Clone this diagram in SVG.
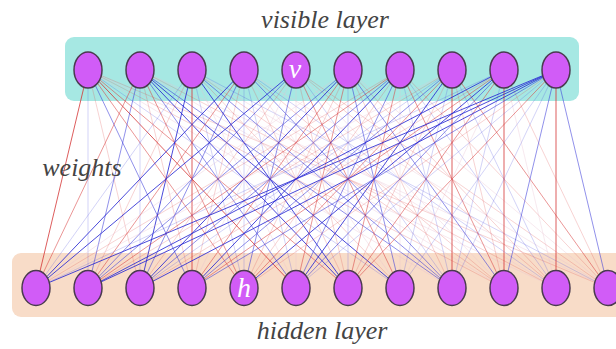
<svg xmlns="http://www.w3.org/2000/svg" width="616" height="349" viewBox="0 0 616 349">
<style>
.lbl{font-family:"Liberation Serif","DejaVu Serif",serif;font-style:italic;font-size:26px;fill:#444;text-anchor:middle}
.nl{font-family:"Liberation Serif","DejaVu Serif",serif;font-style:italic;font-size:28px;fill:#fff;text-anchor:middle}
.node{fill:#d15cf7;stroke:#4a3a4f;stroke-width:1.5}
#connectors path{fill:none;stroke-width:1}
.b3{stroke:#2a2ad4;stroke-opacity:.85}
.b2{stroke:#3636d8;stroke-opacity:.55}
.b1{stroke:#5050e0;stroke-opacity:.25}
.r3{stroke:#d43434;stroke-opacity:.8}
.r2{stroke:#d84040;stroke-opacity:.55}
.r1{stroke:#e05050;stroke-opacity:.25}
.n{stroke:#e8c0d0;stroke-opacity:.35}
</style>
<rect id="visible-box" x="65" y="37" width="514" height="64" rx="9" fill="#a6e8e3"/>
<rect id="hidden-box" x="12" y="253" width="620" height="64" rx="9" fill="#f8dcc8"/>
<g id="connectors">
<path class="r3" d="M88 70L36 288"/><path class="b1" d="M88 70L88 288"/><path class="r1" d="M88 70L140 288"/><path class="b2" d="M88 70L192 288"/><path class="r2" d="M88 70L244 288"/><path class="r3" d="M88 70L296 288"/><path class="r2" d="M88 70L348 288"/><path class="b1" d="M88 70L400 288"/><path class="n" d="M88 70L452 288"/><path class="r1" d="M88 70L504 288"/><path class="n" d="M88 70L556 288"/><path class="r1" d="M88 70L608 288"/>
<path class="r2" d="M140 70L36 288"/><path class="b2" d="M140 70L88 288"/><path class="b1" d="M140 70L140 288"/><path class="r1" d="M140 70L192 288"/><path class="r2" d="M140 70L244 288"/><path class="b2" d="M140 70L296 288"/><path class="b3" d="M140 70L348 288"/><path class="b3" d="M140 70L400 288"/><path class="b2" d="M140 70L452 288"/><path class="n" d="M140 70L504 288"/><path class="r1" d="M140 70L556 288"/><path class="n" d="M140 70L608 288"/>
<path class="b1" d="M192 70L36 288"/><path class="r1" d="M192 70L88 288"/><path class="b3" d="M192 70L140 288"/><path class="r3" d="M192 70L192 288"/><path class="b1" d="M192 70L244 288"/><path class="n" d="M192 70L296 288"/><path class="b3" d="M192 70L348 288"/><path class="r1" d="M192 70L400 288"/><path class="b2" d="M192 70L452 288"/><path class="r1" d="M192 70L504 288"/><path class="n" d="M192 70L556 288"/><path class="b1" d="M192 70L608 288"/>
<path class="b3" d="M244 70L36 288"/><path class="r2" d="M244 70L88 288"/><path class="b2" d="M244 70L140 288"/><path class="r1" d="M244 70L192 288"/><path class="b1" d="M244 70L244 288"/><path class="b1" d="M244 70L296 288"/><path class="r1" d="M244 70L348 288"/><path class="n" d="M244 70L400 288"/><path class="b2" d="M244 70L452 288"/><path class="r1" d="M244 70L504 288"/><path class="b1" d="M244 70L556 288"/><path class="n" d="M244 70L608 288"/>
<path class="b3" d="M296 70L36 288"/><path class="b2" d="M296 70L88 288"/><path class="r1" d="M296 70L140 288"/><path class="n" d="M296 70L192 288"/><path class="b2" d="M296 70L244 288"/><path class="n" d="M296 70L296 288"/><path class="r1" d="M296 70L348 288"/><path class="r2" d="M296 70L400 288"/><path class="b1" d="M296 70L452 288"/><path class="n" d="M296 70L504 288"/><path class="r1" d="M296 70L556 288"/><path class="r1" d="M296 70L608 288"/>
<path class="n" d="M348 70L36 288"/><path class="b2" d="M348 70L88 288"/><path class="b3" d="M348 70L140 288"/><path class="r2" d="M348 70L192 288"/><path class="r1" d="M348 70L244 288"/><path class="r2" d="M348 70L296 288"/><path class="b1" d="M348 70L348 288"/><path class="b2" d="M348 70L400 288"/><path class="r1" d="M348 70L452 288"/><path class="b2" d="M348 70L504 288"/><path class="r1" d="M348 70L556 288"/><path class="n" d="M348 70L608 288"/>
<path class="r1" d="M400 70L36 288"/><path class="r2" d="M400 70L88 288"/><path class="b2" d="M400 70L140 288"/><path class="b3" d="M400 70L192 288"/><path class="r1" d="M400 70L244 288"/><path class="b2" d="M400 70L296 288"/><path class="r2" d="M400 70L348 288"/><path class="n" d="M400 70L400 288"/><path class="b1" d="M400 70L452 288"/><path class="r2" d="M400 70L504 288"/><path class="b1" d="M400 70L556 288"/><path class="r1" d="M400 70L608 288"/>
<path class="n" d="M452 70L36 288"/><path class="r1" d="M452 70L88 288"/><path class="b1" d="M452 70L140 288"/><path class="b2" d="M452 70L192 288"/><path class="r2" d="M452 70L244 288"/><path class="b3" d="M452 70L296 288"/><path class="r1" d="M452 70L348 288"/><path class="b1" d="M452 70L400 288"/><path class="r3" d="M452 70L452 288"/><path class="r1" d="M452 70L504 288"/><path class="b1" d="M452 70L556 288"/><path class="r2" d="M452 70L608 288"/>
<path class="b1" d="M504 70L36 288"/><path class="b3" d="M504 70L88 288"/><path class="r1" d="M504 70L140 288"/><path class="r2" d="M504 70L192 288"/><path class="b3" d="M504 70L244 288"/><path class="b2" d="M504 70L296 288"/><path class="r2" d="M504 70L348 288"/><path class="n" d="M504 70L400 288"/><path class="b1" d="M504 70L452 288"/><path class="r3" d="M504 70L504 288"/><path class="n" d="M504 70L556 288"/><path class="r1" d="M504 70L608 288"/>
<path class="b3" d="M556 70L36 288"/><path class="b3" d="M556 70L88 288"/><path class="b3" d="M556 70L140 288"/><path class="b2" d="M556 70L192 288"/><path class="r1" d="M556 70L244 288"/><path class="b1" d="M556 70L296 288"/><path class="r2" d="M556 70L348 288"/><path class="b1" d="M556 70L400 288"/><path class="b1" d="M556 70L452 288"/><path class="b2" d="M556 70L504 288"/><path class="r3" d="M556 70L556 288"/><path class="b2" d="M556 70L608 288"/>
</g>
<g id="visible-nodes">
<g id="v1"><ellipse class="node" cx="88" cy="70" rx="14" ry="18"/></g>
<g id="v2"><ellipse class="node" cx="140" cy="70" rx="14" ry="18"/></g>
<g id="v3"><ellipse class="node" cx="192" cy="70" rx="14" ry="18"/></g>
<g id="v4"><ellipse class="node" cx="244" cy="70" rx="14" ry="18"/></g>
<g id="v5"><ellipse class="node" cx="296" cy="70" rx="14" ry="18"/><text class="nl" x="295" y="78">v</text></g>
<g id="v6"><ellipse class="node" cx="348" cy="70" rx="14" ry="18"/></g>
<g id="v7"><ellipse class="node" cx="400" cy="70" rx="14" ry="18"/></g>
<g id="v8"><ellipse class="node" cx="452" cy="70" rx="14" ry="18"/></g>
<g id="v9"><ellipse class="node" cx="504" cy="70" rx="14" ry="18"/></g>
<g id="v10"><ellipse class="node" cx="556" cy="70" rx="14" ry="18"/></g>
</g>
<g id="hidden-nodes">
<g id="h1"><ellipse class="node" cx="36" cy="288" rx="14" ry="17.5"/></g>
<g id="h2"><ellipse class="node" cx="88" cy="288" rx="14" ry="17.5"/></g>
<g id="h3"><ellipse class="node" cx="140" cy="288" rx="14" ry="17.5"/></g>
<g id="h4"><ellipse class="node" cx="192" cy="288" rx="14" ry="17.5"/></g>
<g id="h5"><ellipse class="node" cx="244" cy="288" rx="14" ry="17.5"/><text class="nl" x="244" y="297">h</text></g>
<g id="h6"><ellipse class="node" cx="296" cy="288" rx="14" ry="17.5"/></g>
<g id="h7"><ellipse class="node" cx="348" cy="288" rx="14" ry="17.5"/></g>
<g id="h8"><ellipse class="node" cx="400" cy="288" rx="14" ry="17.5"/></g>
<g id="h9"><ellipse class="node" cx="452" cy="288" rx="14" ry="17.5"/></g>
<g id="h10"><ellipse class="node" cx="504" cy="288" rx="14" ry="17.5"/></g>
<g id="h11"><ellipse class="node" cx="556" cy="288" rx="14" ry="17.5"/></g>
<g id="h12"><ellipse class="node" cx="608" cy="288" rx="14" ry="17.5"/></g>
</g>
<g id="labels">
<text class="lbl" x="325" y="28">visible layer</text>
<text class="lbl" x="82" y="176">weights</text>
<text class="lbl" x="322" y="339">hidden layer</text>
</g>
</svg>
